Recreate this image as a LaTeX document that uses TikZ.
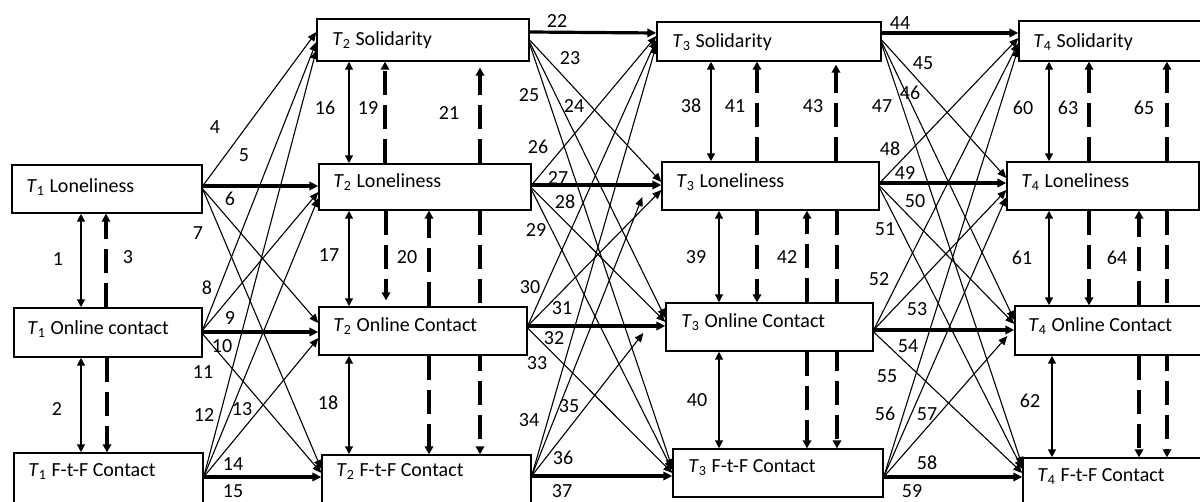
\documentclass[tikz,border=0pt]{standalone}
\usepackage{fontspec}
\setmainfont{Carlito}
\usetikzlibrary{arrows.meta,fit,calc,backgrounds}
\newcommand\xarr[5][cl]{\draw[#1] (#2.east |- 0,#3) -- (#4.west |- 0,#5);}
\newcommand\bx[5]{\node[box, fit={(#2,#3) (#4,#5)}] (#1) {};}
\newcommand\Tn[1]{\textit{T}\textsubscript{#1}}
\begin{document}
\begin{tikzpicture}[x=0.5pt,y=-0.5pt,
 box/.style={draw, line width=0.65pt, fill=white, inner sep=0pt},
 txt/.style={anchor=west, inner sep=0pt, font=\fontsize{10}{12}\selectfont},
 num/.style={inner sep=0pt, font=\fontsize{10}{12}\selectfont},
 cl/.style={line width=0.55pt, -{Triangle[length=4.5pt,width=3.8pt]}},
 ar/.style={line width=1.6pt, -{Triangle[length=4.5pt,width=4.2pt]}},
 dbl/.style={line width=1pt, {Triangle[length=4pt,width=3.8pt]}-{Triangle[length=4pt,width=3.8pt]}},
 dsh/.style={line width=1.6pt, dash pattern=on 12pt off 5pt, -{Triangle[length=4pt,width=4.2pt]}},
]
\useasboundingbox (0,0) rectangle (1200,502);
\clip (0,0) rectangle (1200,502);
% boxes
\bx{lon1}{12}{165}{202}{213}
\bx{onl1}{14}{308}{202}{357}
\bx{ftf1}{14}{453}{203}{504}
\bx{sol2}{317}{19}{529}{61}
\bx{lon2}{319}{164}{531}{210}
\bx{onl2}{319}{307}{527}{355}
\bx{ftf2}{322}{455}{531}{506}
\bx{sol3}{657}{22}{881}{61}
\bx{lon3}{662}{162}{879}{210}
\bx{onl3}{666}{303}{873}{351}
\bx{ftf3}{673}{449}{883}{497}
\bx{sol4}{1019}{21}{1212}{61}
\bx{lon4}{1007}{162}{1199}{210}
\bx{onl4}{1015}{306}{1212}{355}
\bx{ftf4}{1023}{458}{1212}{508}
% box texts
\node[txt] (lon1t) at (26,187) {\Tn{1} Loneliness};
\node[txt] (onl1t) at (27,329) {\Tn{1} Online contact};
\node[txt] (ftf1t) at (28,472) {\Tn{1} F-t-F Contact};
\node[txt] (sol2t) at (332,40) {\Tn{2} Solidarity};
\node[txt] (lon2t) at (333,182) {\Tn{2} Loneliness};
\node[txt] (onl2t) at (333,326) {\Tn{2} Online Contact};
\node[txt] (ftf2t) at (336,472) {\Tn{2} F-t-F Contact};
\node[txt] (sol3t) at (672,42) {\Tn{3} Solidarity};
\node[txt] (lon3t) at (676,182) {\Tn{3} Loneliness};
\node[txt] (onl3t) at (681,322) {\Tn{3} Online Contact};
\node[txt] (ftf3t) at (688,468) {\Tn{3} F-t-F Contact};
\node[txt] (sol4t) at (1033,42) {\Tn{4} Solidarity};
\node[txt] (lon4t) at (1021,182) {\Tn{4} Loneliness};
\node[txt] (onl4t) at (1028,326) {\Tn{4} Online Contact};
\node[txt] (ftf4t) at (1037,477) {\Tn{4} F-t-F Contact};
\begin{scope}[on background layer]
% T1 -> T2
\xarr{lon1}{186}{sol2}{32}
\xarr[ar]{lon1}{186}{lon2}{186}
\xarr{lon1}{189}{onl2}{323}
\xarr{lon1}{189}{ftf2}{469}
\xarr{onl1}{330}{sol2}{42}
\xarr{onl1}{330}{lon2}{192}
\xarr[ar]{onl1}{332}{onl2}{332}
\xarr{onl1}{334}{ftf2}{473}
\xarr{ftf1}{477}{sol2}{50}
\xarr{ftf1}{477}{lon2}{198}
\xarr{ftf1}{477}{onl2}{338}
\xarr[ar]{ftf1}{477}{ftf2}{477}
% T2 -> T3
\xarr[ar]{sol2}{32}{sol3}{33}
\xarr{sol2}{40}{lon3}{182}
\xarr{sol2}{42}{onl3}{318}
\xarr{sol2}{44}{ftf3}{468}
\xarr{lon2}{185}{sol3}{36}
\xarr[ar]{lon2}{185}{lon3}{185}
\xarr{lon2}{188}{onl3}{322}
\xarr{lon2}{190}{ftf3}{470}
\xarr{onl2}{326}{sol3}{40}
\xarr{onl2}{326}{lon3}{190}
\xarr[ar]{onl2}{326}{onl3}{326}
\xarr{onl2}{328}{ftf3}{473}
\xarr{ftf2}{476}{sol3}{45}
\draw[cl] (ftf2.east |- 0,476) -- ($(lon3.west |- 0,197)+(-19,0)$);
\draw[cl] (ftf2.east |- 0,476) -- ($(onl3.west |- 0,333)+(-22,0)$);
\xarr[ar]{ftf2}{476}{ftf3}{476}
% T3 -> T4
\xarr[ar]{sol3}{33}{sol4}{33}
\xarr{sol3}{40}{lon4}{178}
\xarr{sol3}{42}{onl4}{320}
\xarr{sol3}{44}{ftf4}{466}
\xarr{lon3}{183}{sol4}{38}
\xarr[ar]{lon3}{183}{lon4}{183}
\xarr{lon3}{186}{onl4}{324}
\xarr{lon3}{188}{ftf4}{469}
\xarr{onl3}{330}{sol4}{43}
\xarr{onl3}{330}{lon4}{190}
\xarr[ar]{onl3}{330}{onl4}{330}
\xarr{onl3}{332}{ftf4}{473}
\xarr{ftf3}{477}{sol4}{48}
\xarr{ftf3}{477}{lon4}{197}
\draw[cl] (ftf3.east |- 0,477) -- ($(onl4.west |- 0,336)+(-7,0)$);
\xarr[ar]{ftf3}{477}{ftf4}{477}
% T1 verticals
\draw[dbl] (lon1.south -| 81,0) -- (onl1.north -| 81,0);
\draw[dsh] (onl1.north -| 106,0) -- (lon1.south -| 106,0);
\draw[dbl] (onl1.south -| 81,0) -- (ftf1.north -| 81,0);
\draw[dsh] (onl1.south -| 107,0) -- (ftf1.north -| 107,0);
% T2 verticals
\draw[dbl] (sol2.south -| 349,0) -- (lon2.north -| 349,0);
\draw[dsh] (lon2.north -| 385,0) -- (sol2.south -| 385,0);
\draw[dsh] (lon2.north -| 480,0) -- ($(sol2.south -| 480,0)+(0,6)$);
\draw[dbl] (lon2.south -| 349,0) -- (onl2.north -| 349,0);
\draw[dsh] (lon2.south -| 386,0) -- ($(onl2.north -| 386,0)+(0,-6)$);
\draw[dsh] (onl2.north -| 429,0) -- (lon2.south -| 429,0);
\draw[dsh] (onl2.south -| 429,0) -- (ftf2.north -| 429,0);
\draw[dsh] (lon2.south -| 480,0) -- (ftf2.north -| 480,0);
\draw[dbl] (onl2.south -| 349,0) -- (ftf2.north -| 349,0);
% T3 verticals
\draw[dbl] (sol3.south -| 711,0) -- (lon3.north -| 711,0);
\draw[dsh] (lon3.north -| 757,0) -- (sol3.south -| 757,0);
\draw[dsh] (lon3.north -| 836,0) -- ($(sol3.south -| 836,0)+(0,3)$);
\draw[dbl] (lon3.south -| 719,0) -- (onl3.north -| 719,0);
\draw[dsh] (lon3.south -| 757,0) -- (onl3.north -| 757,0);
\draw[dsh] (onl3.north -| 807,0) -- (lon3.south -| 807,0);
\draw[dsh] (onl3.south -| 807,0) -- (ftf3.north -| 807,0);
\draw[dsh] (lon3.south -| 837,0) -- (ftf3.north -| 837,0);
\draw[dbl] (onl3.south -| 719,0) -- (ftf3.north -| 719,0);
% T4 verticals
\draw[dbl] (sol4.south -| 1049,0) -- (lon4.north -| 1049,0);
\draw[dsh] (lon4.north -| 1089,0) -- (sol4.south -| 1089,0);
\draw[dsh] (lon4.north -| 1167,0) -- (sol4.south -| 1167,0);
\draw[dbl] (lon4.south -| 1049,0) -- (onl4.north -| 1049,0);
\draw[dsh] (lon4.south -| 1089,0) -- (onl4.north -| 1089,0);
\draw[dsh] (onl4.north -| 1139,0) -- (lon4.south -| 1139,0);
\draw[dsh] (onl4.south -| 1139,0) -- (ftf4.north -| 1139,0);
\draw[dsh] (lon4.south -| 1167,0) -- (ftf4.north -| 1167,0);
\draw[dbl] (onl4.south -| 1052,0) -- (ftf4.north -| 1052,0);
\end{scope}
% number labels
\foreach \t/\x/\y in {1/58/259, 2/57/409, 3/128/257,
 4/215/127, 5/244/155, 6/230/199, 7/198/233,
 8/207/288, 9/230/318, 10/222/346, 11/203/372,
 12/204/415, 13/242/409, 14/233/464, 15/233/491,
 16/325/108, 17/329/255, 18/328/403, 19/368/108, 20/407/257, 21/449/113,
 22/557/21, 23/570/58, 24/574/106, 25/529/95, 26/538/147, 27/558/178, 28/565/202, 29/536/230,
 30/530/287, 31/562/308, 32/554/338, 33/537/363, 34/529/420, 35/569/406, 36/563/458, 37/562/491,
 38/691/106, 39/696/257, 40/697/400, 41/735/106, 42/787/257, 43/813/106,
 44/900/23, 45/923/63, 46/910/93, 47/882/106, 48/890/149, 49/905/173, 50/915/201, 51/885/229,
 52/879/279, 53/917/309, 54/908/346, 55/887/376, 56/885/414, 57/927/414, 58/927/463, 59/912/491,
 60/1023/108, 61/1022/258, 62/1030/401, 63/1068/108, 64/1117/258, 65/1144/108}
 {\node[num] (l\t) at (\x,\y) {\t};}
\end{tikzpicture}
\end{document}
